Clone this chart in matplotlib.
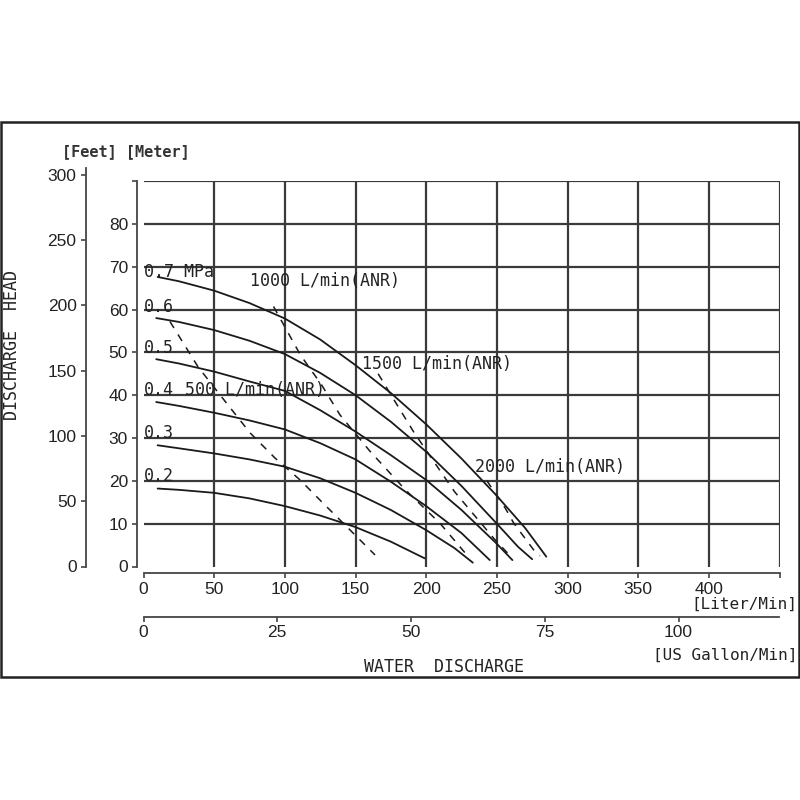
import matplotlib.pyplot as plt
from matplotlib.patches import Rectangle

plt.rcParams['font.family'] = ['DejaVu Sans Mono']

# pressure curves: flow (L/min) -> head (m)
flow_07 = [10, 25, 50, 75, 100, 125, 150, 175, 200, 225, 250, 270, 285]
head_07 = [67.6, 66.6, 64.4, 61.5, 57.9, 53.0, 47.0, 40.5, 33.2, 25.2, 16.5, 9.0, 2.3]
flow_06 = [9, 25, 50, 75, 100, 125, 150, 175, 200, 225, 250, 265, 275]
head_06 = [58.0, 57.1, 55.2, 52.7, 49.6, 45.2, 40.0, 33.8, 26.8, 18.8, 10.0, 4.6, 1.7]
flow_05 = [9, 25, 50, 75, 100, 125, 150, 175, 200, 225, 250, 261]
head_05 = [48.4, 47.4, 45.5, 43.2, 41.0, 36.5, 31.5, 26.0, 20.2, 13.2, 5.3, 1.5]
flow_04 = [9, 25, 50, 75, 100, 125, 150, 175, 200, 225, 245]
head_04 = [38.4, 37.5, 35.9, 34.1, 32.0, 28.8, 25.0, 19.8, 14.1, 7.8, 1.5]
flow_03 = [10, 25, 50, 75, 100, 125, 150, 175, 200, 220, 233]
head_03 = [28.3, 27.6, 26.4, 25.0, 23.3, 20.6, 17.2, 13.2, 8.5, 4.3, 0.9]
flow_02 = [10, 25, 50, 75, 100, 125, 150, 175, 199]
head_02 = [18.2, 17.9, 17.2, 15.9, 14.1, 11.9, 9.2, 5.8, 1.9]

# air consumption lines (dashed)
flow_a500 = [18.7, 38.6, 59.8, 75.4, 93.1, 110.8, 127, 144.7, 163.8]
head_a500 = [57.2, 46.6, 37.7, 31.2, 25.3, 20.2, 14.8, 9.0, 2.7]
flow_a1000 = [92, 111, 126, 139, 160, 185, 210, 228]
head_a1000 = [60.7, 49.4, 42.4, 35.4, 27.0, 18.0, 10.0, 3.0]
flow_a1500 = [166, 178, 191, 205, 220, 235, 248, 260]
head_a1500 = [45.0, 38.5, 31.5, 24.7, 17.5, 11.6, 6.5, 2.3]
flow_a2000 = [243, 256, 262, 269, 276, 280.5]
head_a2000 = [20.0, 13.6, 10.1, 7.0, 3.9, 2.5]

meter_ticks = [0, 10, 20, 30, 40, 50, 60, 70, 80, 90]
feet_ticks = [0, 50, 100, 150, 200, 250, 300]
liter_ticks = [0, 50, 100, 150, 200, 250, 300, 350, 400, 450]
gallon_ticks = [0, 25, 50, 75, 100]

# curve labels: (text, flow, head baseline)
curve_labels = [
    ("0.7 MPa", 0, 67.6),
    ("0.6", 0, 59.4),
    ("0.5", 0, 49.8),
    ("0.4", 0, 40.0),
    ("0.3", 0, 30.0),
    ("0.2", 0, 19.9),
    ("500 L/min(ANR)", 29.4, 40.0),
    ("1000 L/min(ANR)", 75.4, 65.4),
    ("1500 L/min(ANR)", 154.6, 46.0),
    ("2000 L/min(ANR)", 234.6, 22.1),
]

W = 800
def fx(px):
    return px / W
def fy(py):
    return 1 - py / W

ink = '#1a1a1a'
grid_c = '#3a3a3a'
num_font = 'Liberation Sans'

fig = plt.figure(figsize=(8, 8), dpi=100)

# outer frame
fig.add_artist(Rectangle((fx(1), fy(677)), fx(799) - fx(1), fy(122) - fy(677),
                         transform=fig.transFigure, fill=False, lw=1.8, ec='#222222'))

x0, x1 = 143.5, 779.5
y0, y1 = 566.5, 181.0
ax = fig.add_axes([fx(x0), fy(y0), fx(x1) - fx(x0), fy(y1) - fy(y0)])
ax.set_xlim(0, 450)
ax.set_ylim(0, 90)
ax.patch.set_alpha(0)
for s in ['top', 'right']:
    ax.spines[s].set_visible(False)
ax.spines['left'].set_position(('outward', 4.7))
ax.spines['bottom'].set_position(('outward', 5.0))
for s in ['left', 'bottom']:
    ax.spines[s].set_color('#444444')
    ax.spines[s].set_linewidth(1.3)

ax.hlines(meter_ticks[1:], 0, 450, colors=grid_c, lw=1.6, zorder=1)
ax.vlines(liter_ticks[1:], 0, 90, colors=grid_c, lw=1.6, zorder=1)

ax.set_yticks(meter_ticks)
ax.set_yticklabels([str(v) if v < 90 else '' for v in meter_ticks],
                   fontfamily=num_font, fontsize=12.5, color='#222222')
ax.set_xticks(liter_ticks)
ax.set_xticklabels([str(v) if v < 450 else '' for v in liter_ticks],
                   fontfamily=num_font, fontsize=12.5, color='#222222')
ax.tick_params(axis='y', direction='out', length=3.6, width=1.2, color='#444444', pad=2.8)
ax.tick_params(axis='x', direction='out', length=3.6, width=1.2, color='#444444', pad=2.5)

# pressure curves
for fl, hd in [(flow_07, head_07), (flow_06, head_06), (flow_05, head_05),
               (flow_04, head_04), (flow_03, head_03), (flow_02, head_02)]:
    ax.plot(fl, hd, color=ink, lw=1.3, zorder=3, solid_capstyle='round')

# air consumption lines
for fl, hd in [(flow_a500, head_a500), (flow_a1000, head_a1000),
               (flow_a1500, head_a1500), (flow_a2000, head_a2000)]:
    ax.plot(fl, hd, color=ink, lw=1.1, ls=(0, (5, 5)), zorder=3)

for txt, fl, hd in curve_labels:
    ax.text(fl, hd, txt, fontsize=12, color='#222222', ha='left', va='baseline', zorder=4)

# feet axis
ft_top = 168.0
ax_ft = fig.add_axes([fx(86), fy(y0), 0.0005, fy(ft_top) - fy(y0)])
ax_ft.set_ylim(0, (y0 - ft_top) / ((y0 - y1) / 90) * 3.28084)
ax_ft.patch.set_alpha(0)
for s in ['top', 'right', 'bottom']:
    ax_ft.spines[s].set_visible(False)
ax_ft.spines['left'].set_color('#444444')
ax_ft.spines['left'].set_linewidth(1.3)
ax_ft.set_xticks([])
ax_ft.set_yticks(feet_ticks)
ax_ft.set_yticklabels([str(v) for v in feet_ticks], fontfamily=num_font,
                      fontsize=12.5, color='#222222')
ax_ft.tick_params(axis='y', direction='out', length=3.6, width=1.2, color='#444444', pad=3.2)

# US gallon axis
ax_gal = fig.add_axes([fx(x0), fy(617), fx(x1) - fx(x0), 0.0005])
ax_gal.set_xlim(0, 450 / 3.78541)
ax_gal.patch.set_alpha(0)
for s in ['top', 'right', 'left']:
    ax_gal.spines[s].set_visible(False)
ax_gal.spines['bottom'].set_color('#444444')
ax_gal.spines['bottom'].set_linewidth(1.3)
ax_gal.set_yticks([])
ax_gal.set_xticks(gallon_ticks)
ax_gal.set_xticklabels([str(v) for v in gallon_ticks], fontfamily=num_font,
                       fontsize=12.5, color='#222222')
ax_gal.tick_params(axis='x', direction='out', length=3.6, width=1.2, color='#444444', pad=2.5)

# axis titles
fig.text(fx(62), fy(152), "[Feet] [Meter]", fontsize=11, fontweight='bold',
         color='#333333', ha='left', va='center')
fig.text(fx(12), fy(345), "DISCHARGE  HEAD", fontsize=12, color='#222222',
         rotation=90, ha='center', va='center')
fig.text(fx(797), fy(604), "[Liter/Min]", fontsize=11.5, color='#222222',
         ha='right', va='center')
fig.text(fx(797), fy(655), "[US Gallon/Min]", fontsize=11.5, color='#222222',
         ha='right', va='center')
fig.text(fx(444), fy(667), "WATER  DISCHARGE", fontsize=12, color='#222222',
         ha='center', va='center')

fig.savefig('out.png', dpi=100, facecolor='white')
